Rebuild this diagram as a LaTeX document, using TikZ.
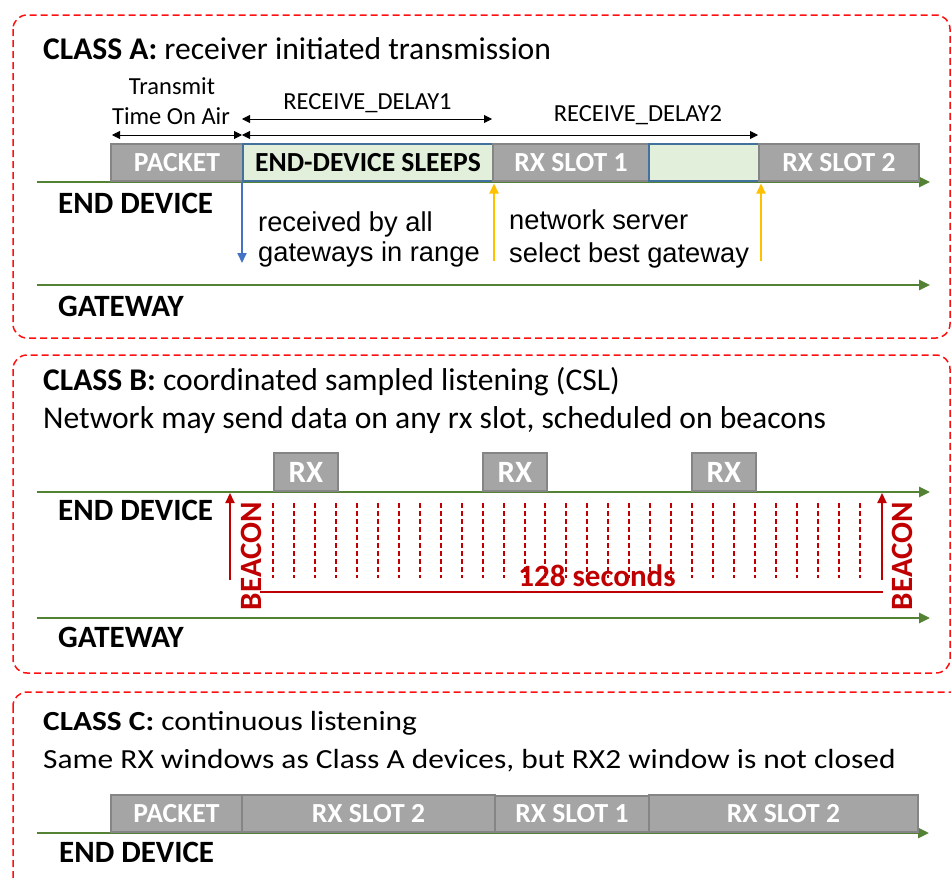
\documentclass[tikz,border=0pt]{standalone}
\usepackage{fontspec}
\setmainfont{Carlito}
\newfontfamily\notefont{Liberation Sans}
\usetikzlibrary{arrows.meta}

\definecolor{framered}{HTML}{FF1010}
\definecolor{tlgreen}{HTML}{548235}
\definecolor{slotfill}{HTML}{A5A5A5}
\definecolor{slotline}{HTML}{858585}
\definecolor{sleepfill}{HTML}{E2EFDA}
\definecolor{sleepline}{HTML}{41719C}
\definecolor{rxblue}{HTML}{4472C4}
\definecolor{gwyellow}{HTML}{FFC000}
\definecolor{beaconred}{HTML}{C00000}

\tikzset{
  frame/.style={draw=framered, line width=1.5pt, dash pattern=on 7pt off 4pt, rounded corners=14pt},
  timeline/.style={draw=tlgreen, line width=2.6pt, -{Triangle[length=11pt,width=10pt]}},
  slot/.style={draw=slotline, fill=slotfill, line width=2pt, anchor=south west, inner sep=0pt,
    text=white, font=\bfseries\fontsize{27.6}{27.6}\selectfont},
  sleepslot/.style={slot, draw=sleepline, fill=sleepfill, text=black},
  heading/.style={anchor=base west, inner sep=0pt, font=\fontsize{31.6}{31.6}\selectfont},
  subheading/.style={anchor=base west, inner sep=0pt, yscale=0.88, font=\fontsize{31.4}{31.4}\selectfont},
  lane/.style={anchor=base west, inner sep=0pt, font=\bfseries\fontsize{31}{31}\selectfont},
  dimtext/.style={anchor=base, inner sep=0pt, font=\fontsize{24.5}{24.5}\selectfont},
  dimline/.style={draw=black, line width=0.8pt, {Triangle[length=8pt,width=8pt]}-{Triangle[length=8pt,width=8pt]}},
  note/.style={anchor=base west, inner sep=0pt, font=\notefont\fontsize{27.3}{27.3}\selectfont},
  uplink/.style={draw=rxblue, line width=2pt, -{Triangle[length=10pt,width=9pt]}},
  downlink/.style={draw=gwyellow, line width=2pt, -{Triangle[length=10pt,width=9pt]}},
  beacon/.style={draw=beaconred, line width=2.2pt, -{Triangle[length=10pt,width=9pt]}},
  beacontext/.style={text=beaconred, inner sep=0pt, font=\bfseries\fontsize{31}{31}\selectfont},
  pingslot/.style={draw=beaconred, line width=2pt, dash pattern=on 5pt off 3pt},
}

\begin{document}
\begin{tikzpicture}[x=1pt, y=-1pt]
\useasboundingbox (0,0) rectangle (951,878);

% ---------------- frames ----------------
\draw[frame] (13,15) rectangle (950,338);
\draw[frame] (13,355) rectangle (950,673);
\begin{scope}
  \clip (0,0) rectangle (951,878);
  \draw[frame] (13,692) rectangle (975,905);
\end{scope}

% ================= CLASS A =================
\node[heading] (titleA) at (43,59) {\textbf{CLASS A:} receiver initiated transmission};

\coordinate (edA0) at (37,182);
\coordinate (edA1) at (930,182);
\coordinate (gwA0) at (37,285);
\coordinate (gwA1) at (930,285);
\draw[timeline] (edA0) -- (edA1);
\draw[timeline] (gwA0) -- (gwA1);

\node[slot, minimum width=132pt, minimum height=37pt] (pktA) at (110,182) {PACKET};
\node[sleepslot, minimum width=250pt, minimum height=37pt] (sleepA) at (242,182) {END-DEVICE SLEEPS};
\node[slot, minimum width=156pt, minimum height=37pt] (rx1A) at (492,182) {RX SLOT 1};
\node[sleepslot, minimum width=110pt, minimum height=37pt] (waitA) at (648,182) {};
\node[slot, minimum width=160pt, minimum height=37pt] (rx2A) at (758,182) {RX SLOT 2};

\node[lane] (edlabelA) at (58,213) {END DEVICE};
\node[lane] (gwlabelA) at (58,316) {GATEWAY};

% timing dimensions
\node[dimtext] (toa1) at (172,94) {Transmit};
\node[dimtext] (toa2) at (171,124) {Time On Air};
\node[dimtext] (rd1) at (367.5,109) {RECEIVE\_DELAY1};
\node[dimtext] (rd2) at (638,121) {RECEIVE\_DELAY2};
\coordinate (toaL) at (112,135);
\coordinate (toaR) at (242,135);
\coordinate (rd1L) at (242,119);
\coordinate (rd1R) at (492,119);
\coordinate (rd2L) at (242,135);
\coordinate (rd2R) at (758,135);
\draw[dimline] (toaL) -- (toaR);
\draw[dimline] (rd1L) -- (rd1R);
\draw[dimline] (rd2L) -- (rd2R);

% uplink to gateways, downlink selection
\coordinate (upEnd) at (242,263);
\draw[uplink] (sleepA.south west) -- (upEnd);
\coordinate (dl1) at (494,261);
\coordinate (dl2) at (761,261);
\draw[downlink] (dl1) -- (494,183.5);
\draw[downlink] (dl2) -- (761,183.5);

\node[note] (recv1) at (258,231) {received by all};
\node[note] (recv2) at (258,261) {gateways in range};
\node[note] (ns1) at (509,229) {network server};
\node[note] (ns2) at (509,262) {select best gateway};

% ================= CLASS B =================
\node[heading] (titleB) at (43,390) {\textbf{CLASS B:} coordinated sampled listening (CSL)};
\node[heading] (subB) at (43,428) {Network may send data on any rx slot, scheduled on beacons};

\coordinate (edB0) at (37,492);
\coordinate (edB1) at (930,492);
\coordinate (gwB0) at (37,618);
\coordinate (gwB1) at (930,618);
\draw[timeline] (edB0) -- (edB1);
\draw[timeline] (gwB0) -- (gwB1);

\node[slot, minimum width=64pt, minimum height=38pt, font=\bfseries\fontsize{31}{31}\selectfont] (rxB1) at (273,492) {RX};
\node[slot, minimum width=64pt, minimum height=38pt, font=\bfseries\fontsize{31}{31}\selectfont] (rxB2) at (482,492) {RX};
\node[slot, minimum width=64pt, minimum height=38pt, font=\bfseries\fontsize{31}{31}\selectfont] (rxB3) at (691,492) {RX};

\node[lane] (edlabelB) at (58,520) {END DEVICE};
\node[lane] (gwlabelB) at (58,647) {GATEWAY};

% ping slots between beacons
\foreach \k in {0,...,28}
  \draw[pingslot] ({273+20.96*\k},503) -- ({273+20.96*\k},578);

\node[beacontext, anchor=base] (period) at (597,586) {128 seconds};

\coordinate (bL0) at (230,580);
\coordinate (bL1) at (230,493);
\coordinate (bR0) at (882,580);
\coordinate (bR1) at (882,493);
\draw[beacon] (bL0) -- (bL1);
\draw[beacon] (bR0) -- (bR1);
\coordinate (perL) at (260,592);
\coordinate (perR) at (883,592);
\draw[draw=beaconred, line width=2.2pt] (perL) -- (perR);

\node[beacontext, rotate=90] (beaconL) at (251,556) {BEACON};
\node[beacontext, rotate=90] (beaconR) at (902,556) {BEACON};

% ================= CLASS C =================
\node[subheading] (titleC) at (43,730) {\textbf{CLASS C:} continuous listening};
\node[subheading] (subC) at (43,768) {Same RX windows as Class A devices, but RX2 window is not closed};

\coordinate (edC0) at (37,833);
\coordinate (edC1) at (929,833);
\draw[timeline] (edC0) -- (edC1);

\node[slot, minimum width=131pt, minimum height=37pt] (pktC) at (110,833) {PACKET};
\node[slot, minimum width=253pt, minimum height=37pt] (rx2C) at (241,833) {RX SLOT 2};
\node[slot, minimum width=154pt, minimum height=36pt] (rx1C) at (494,833) {RX SLOT 1};
\node[slot, minimum width=269pt, minimum height=37pt] (rx2Cb) at (648,833) {RX SLOT 2};

\node[lane] (edlabelC) at (59,862) {END DEVICE};
\end{tikzpicture}
\end{document}
